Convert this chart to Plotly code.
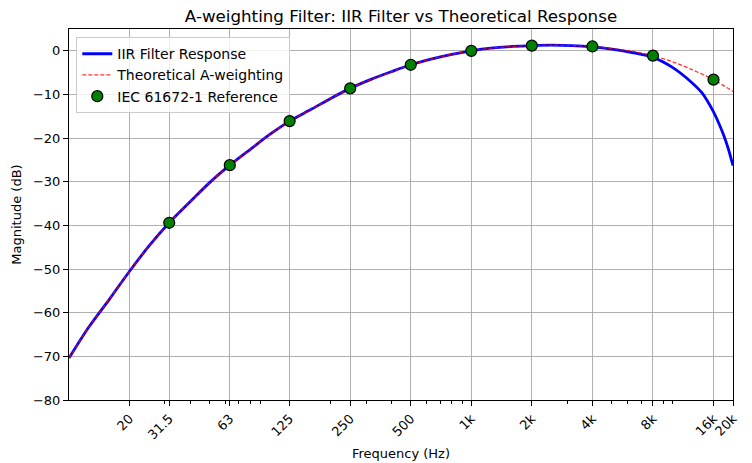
import plotly.graph_objects as go

# Values
theory_freq = [10, 12.5, 16, 20, 25, 31.5, 40, 50, 63, 80, 100, 125, 160, 200, 250, 315, 400,
               500, 630, 800, 1000, 1250, 1600, 2000, 2500, 3150, 4000, 5000, 6300, 8000,
               10000, 12500, 16000, 20000]
theory_db = [-70.4, -63.4, -56.7, -50.5, -44.7, -39.4, -34.6, -30.2, -26.2, -22.5, -19.1, -16.1,
             -13.4, -10.9, -8.6, -6.6, -4.8, -3.2, -1.9, -0.8, 0.0, 0.6, 1.0, 1.2, 1.3, 1.2, 1.0,
             0.5, -0.1, -1.1, -2.5, -4.3, -6.6, -9.3]

iir_freq = [10, 12.5, 16, 20, 25, 31.5, 40, 50, 63, 80, 100, 125, 160, 200, 250, 315, 400,
            500, 630, 800, 1000, 1250, 1600, 2000, 2500, 3150, 4000, 5000, 6300, 8000,
            10000, 12500, 14000, 16000, 17000, 18000, 19000, 20000]
iir_db = [-70.4, -63.4, -56.7, -50.5, -44.7, -39.4, -34.6, -30.2, -26.2, -22.5, -19.1, -16.1,
          -13.4, -10.9, -8.6, -6.6, -4.8, -3.2, -1.9, -0.8, 0.0, 0.6, 1.0, 1.2, 1.3, 1.2, 0.9,
          0.4, -0.4, -1.5, -3.8, -7.3, -9.6, -14.0, -16.6, -19.4, -22.6, -26.3]

ref_freq = [31.5, 63, 125, 250, 500, 1000, 2000, 4000, 8000, 16000]
ref_db = [-39.4, -26.2, -16.1, -8.6, -3.2, 0.0, 1.2, 1.0, -1.1, -6.6]

tick_vals = [20, 31.5, 63, 125, 250, 500, 1000, 2000, 4000, 8000, 16000, 20000]
tick_text = ["20", "31.5", "63", "125", "250", "500", "1k", "2k", "4k", "8k", "16k", "20k"]
minor_vals = [30, 40, 50, 60, 70, 80, 90, 200, 300, 400, 600, 700, 800, 900,
              3000, 5000, 6000, 7000, 9000, 10000]

FONT = "DejaVu Sans, Liberation Sans, sans-serif"

fig = go.Figure()
fig.add_trace(go.Scatter(x=iir_freq, y=iir_db, mode="lines", name="IIR Filter Response",
                         line=dict(color="blue", width=2.8, shape="spline", smoothing=0.8)))
fig.add_trace(go.Scatter(x=theory_freq, y=theory_db, mode="lines", name="Theoretical A-weighting",
                         line=dict(color="rgba(255,0,0,0.8)", width=1.3, dash="4px,2px",
                                   shape="spline", smoothing=0.8)))
fig.add_trace(go.Scatter(x=ref_freq, y=ref_db, mode="markers", name="IEC 61672-1 Reference",
                         marker=dict(color="green", size=11, line=dict(color="black", width=1.2))))

# the page body keeps an 8px margin, so the figure is sized to the rest of the window
fig.update_layout(
    width=744, height=455,
    margin=dict(l=61, r=19, t=21, b=63),
    paper_bgcolor="white", plot_bgcolor="white",
    font=dict(family=FONT, size=13, color="black"),
    title=dict(text="A-weighting Filter: IIR Filter vs Theoretical Response",
               x=0.5, xanchor="center", xref="paper", yref="container",
               y=1, yanchor="top", pad=dict(t=2), font=dict(size=16.7)),
    legend=dict(x=0.011, y=0.978, xanchor="left", yanchor="top",
                bgcolor="rgba(255,255,255,0.8)", bordercolor="#cccccc", borderwidth=1,
                font=dict(size=14), tracegroupgap=0),
    showlegend=True,
)

fig.update_xaxes(
    type="log", range=[1, 4.30103], automargin=False,
    tickmode="array", tickvals=tick_vals, ticktext=tick_text, tickangle=-45,
    tickfont=dict(size=13),
    showgrid=True, gridcolor="#b0b0b0", gridwidth=0.8,
    showline=True, linecolor="black", linewidth=1, mirror=True,
    ticks="outside", ticklen=5, tickcolor="black",
    minor=dict(tickvals=minor_vals, ticks="outside", ticklen=3, tickcolor="black", showgrid=False),
    zeroline=False,
    title=dict(text="Frequency (Hz)", standoff=7, font=dict(size=13)),
)
fig.update_yaxes(
    range=[-80, 5], automargin=False, tickvals=[0, -10, -20, -30, -40, -50, -60, -70, -80],
    ticktext=["0", "\u221210", "\u221220", "\u221230", "\u221240", "\u221250", "\u221260", "\u221270", "\u221280"],
    tickfont=dict(size=13),
    showgrid=True, gridcolor="#b0b0b0", gridwidth=0.8,
    showline=True, linecolor="black", linewidth=1, mirror=True,
    ticks="outside", ticklen=5, tickcolor="black",
    zeroline=False,
    title=dict(text="Magnitude (dB)", standoff=8, font=dict(size=13)),
)

fig.write_html("out.html")
